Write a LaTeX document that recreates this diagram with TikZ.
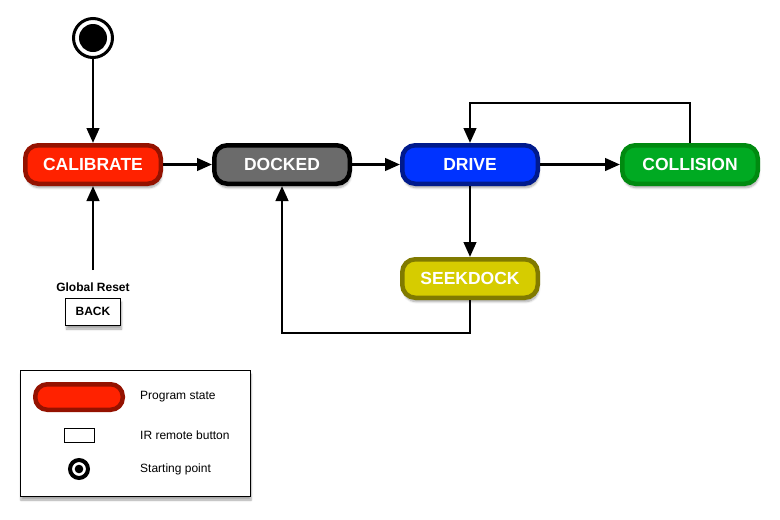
\documentclass[tikz,border=0pt]{standalone}
\usepackage{fontspec}
\setmainfont{Liberation Sans}
\usetikzlibrary{arrows.meta,shadows.blur}
\definecolor{calF}{HTML}{FF2200}\definecolor{calB}{HTML}{941200}
\definecolor{dokF}{HTML}{6B6B6B}\definecolor{dokB}{HTML}{000000}
\definecolor{drvF}{HTML}{0033FF}\definecolor{drvB}{HTML}{001A8C}
\definecolor{colF}{HTML}{00AA22}\definecolor{colB}{HTML}{008A10}
\definecolor{skF}{HTML}{D6CC00}\definecolor{skB}{HTML}{807A00}
\tikzset{
  shad/.style={blur shadow={shadow xshift=1pt, shadow yshift=-4pt, shadow blur steps=6, shadow opacity=35}},
  state/.style={draw, line width=4.5pt, rounded corners=13pt, minimum width=135.5pt, minimum height=38.5pt,
    inner sep=0pt, font=\fontsize{17.5}{20}\selectfont\bfseries, text=white, shad},
  conn/.style={line width=2.8pt, -{Triangle[length=15pt,width=12.5pt]}},
  btn/.style={draw, line width=1pt, fill=white, minimum width=55pt, minimum height=27pt, inner sep=0pt,
    font=\fontsize{12}{14}\selectfont\bfseries, shad},
  lbl/.style={anchor=west, inner sep=0pt, font=\fontsize{12}{14}\selectfont}
}
\begin{document}
\begin{tikzpicture}[x=1pt,y=-1pt]
\useasboundingbox (0,0) rectangle (780,520);
% start
\node[circle, draw, line width=3pt, minimum size=39pt, fill=white, inner sep=0pt] (start) at (93,38) {};
\fill (start.center) circle (14pt);
% states
\node[state, fill=calF, draw=calB] (calib) at (93,164.5) {CALIBRATE};
\node[state, fill=dokF, draw=dokB] (docked) at (282,164.5) {DOCKED};
\node[state, fill=drvF, draw=drvB] (drive) at (470,164.5) {DRIVE};
\node[state, fill=colF, draw=colB] (coll) at (690,164.5) {COLLISION};
\node[state, fill=skF, draw=skB] (seek) at (470,278.5) {SEEKDOCK};
% global reset
\node[inner sep=0pt, font=\fontsize{12}{14}\selectfont\bfseries] (gr) at (93,287) {Global Reset};
\node[btn] (back) at (93,311.5) {BACK};
\coordinate (grtop) at (93,270);
% connectors
\draw[conn] (start.south) -- (calib.north);
\draw[conn] (grtop) -- (calib.south);
\draw[conn] (calib.east) -- (docked.west);
\draw[conn] (docked.east) -- (drive.west);
\draw[conn] (drive.east) -- (coll.west);
\draw[conn] (drive.south) -- (seek.north);
\draw[conn] (coll.north) -- ++(0,-40) -| (drive.north);
\draw[conn] (seek.south) -- ++(0,33) -| (docked.south);
% legend
\node[draw, line width=1pt, fill=white, minimum width=230pt, minimum height=126pt, inner sep=0pt, shad] (legend) at (135,433) {};
\node[draw=calB, fill=calF, line width=4.5pt, rounded corners=12pt, minimum width=87.5pt, minimum height=25.5pt, inner sep=0pt] (lgstate) at (79,397) {};
\node[draw, line width=0.8pt, minimum width=30pt, minimum height=14pt, inner sep=0pt] (lgbtn) at (79,435) {};
\node[circle, draw, line width=4pt, minimum size=18pt, inner sep=0pt] (lgstart) at (79,469) {};
\fill (lgstart.center) circle (4.3pt);
\node[lbl] (t1) at (140,397) {Program state};
\node[lbl] (t2) at (140,435) {IR remote button};
\node[lbl] (t3) at (140,469) {Starting point};
\end{tikzpicture}
\end{document}
